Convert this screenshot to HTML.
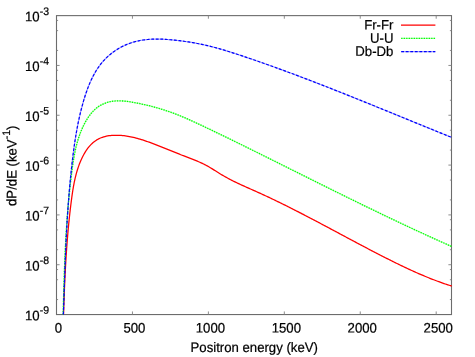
<!DOCTYPE html>
<html><head><meta charset="utf-8"><title>plot</title>
<style>
html,body{margin:0;padding:0;background:#fff;}
svg{display:block;will-change:transform;font-family:"Liberation Sans",sans-serif;font-size:13.7px;fill:#000;}
svg text{stroke:#000;stroke-width:0.22px;text-rendering:geometricPrecision;}
</style></head><body>
<svg width="475" height="357" viewBox="0 0 475 357">
<rect width="475" height="357" fill="#fff"/>
<rect x="56.5" y="15.62" width="395.0" height="298.93" fill="none" stroke="#6c6c6c" stroke-width="1.1"/>
<path d="M56.5,20.45h1.6 M451.5,20.45h-1.6 M56.5,30.62h1.6 M451.5,30.62h-1.6 M56.5,50.44h1.6 M451.5,50.44h-1.6 M56.5,65.44h3.1 M451.5,65.44h-3.1 M56.5,70.27h1.6 M451.5,70.27h-1.6 M56.5,80.44h1.6 M451.5,80.44h-1.6 M56.5,100.27h1.6 M451.5,100.27h-1.6 M56.5,115.26h3.1 M451.5,115.26h-3.1 M56.5,120.09h1.6 M451.5,120.09h-1.6 M56.5,130.26h1.6 M451.5,130.26h-1.6 M56.5,150.09h1.6 M451.5,150.09h-1.6 M56.5,165.09h3.1 M451.5,165.09h-3.1 M56.5,169.91h1.6 M451.5,169.91h-1.6 M56.5,180.08h1.6 M451.5,180.08h-1.6 M56.5,199.91h1.6 M451.5,199.91h-1.6 M56.5,214.91h3.1 M451.5,214.91h-3.1 M56.5,219.73h1.6 M451.5,219.73h-1.6 M56.5,229.90h1.6 M451.5,229.90h-1.6 M56.5,249.73h1.6 M451.5,249.73h-1.6 M56.5,264.73h3.1 M451.5,264.73h-3.1 M56.5,269.56h1.6 M451.5,269.56h-1.6 M56.5,279.73h1.6 M451.5,279.73h-1.6 M56.5,299.55h1.6 M451.5,299.55h-1.6 M132.44,314.55v-3.1 M132.44,15.62v3.1 M208.38,314.55v-3.1 M208.38,15.62v3.1 M284.32,314.55v-3.1 M284.32,15.62v3.1 M360.26,314.55v-3.1 M360.26,15.62v3.1 M436.20,314.55v-3.1 M436.20,15.62v3.1" stroke="#808080" stroke-width="0.9" fill="none"/>
<path d="M63.55,314.51 L63.59,313.14 L63.64,311.78 L63.68,310.41 L63.72,309.05 L63.77,307.68 L63.81,306.32 L63.86,304.95 L63.90,303.59 L63.95,302.22 L64.00,300.86 L64.05,299.49 L64.10,298.13 L64.15,296.76 L64.20,295.40 L64.25,294.03 L64.30,292.67 L64.35,291.31 L64.41,289.94 L64.46,288.58 L64.52,287.22 L64.58,285.85 L64.64,284.49 L64.70,283.13 L64.76,281.76 L64.82,280.40 L64.88,279.04 L64.94,277.67 L65.01,276.31 L65.08,274.95 L65.14,273.59 L65.21,272.22 L65.28,270.86 L65.36,269.50 L65.43,268.14 L65.50,266.78 L65.58,265.41 L65.66,264.05 L65.74,262.69 L65.82,261.33 L65.90,259.97 L65.98,258.61 L66.07,257.25 L66.15,255.89 L66.24,254.53 L66.33,253.16 L66.42,251.80 L66.52,250.44 L66.61,249.08 L66.71,247.72 L66.81,246.36 L66.91,245.00 L67.01,243.65 L67.11,242.29 L67.22,240.93 L67.33,239.57 L67.44,238.21 L67.55,236.85 L67.66,235.49 L67.78,234.13 L67.90,232.77 L68.02,231.42 L68.14,230.06 L68.26,228.70 L68.39,227.34 L68.52,225.98 L68.65,224.63 L68.78,223.27 L68.92,221.91 L69.06,220.56 L69.20,219.20 L69.34,217.84 L69.48,216.49 L69.63,215.13 L69.78,213.77 L69.93,212.42 L70.09,211.06 L70.24,209.70 L70.40,208.35 L70.57,206.99 L70.73,205.64 L70.90,204.28 L71.07,202.93 L71.24,201.57 L71.42,200.22 L71.60,198.86 L71.78,197.51 L71.96,196.16 L72.15,194.80 L72.35,193.45 L72.55,192.10 L72.76,190.75 L72.97,189.40 L73.20,188.05 L73.43,186.71 L73.67,185.37 L73.92,184.03 L74.18,182.69 L74.45,181.35 L74.74,180.02 L75.04,178.69 L75.35,177.37 L75.67,176.04 L76.01,174.72 L76.36,173.41 L76.73,172.10 L77.12,170.79 L77.52,169.49 L77.94,168.19 L78.38,166.90 L78.84,165.61 L79.31,164.33 L79.81,163.05 L80.33,161.78 L80.87,160.51 L81.44,159.25 L82.02,158.00 L82.63,156.75 L83.27,155.51 L83.93,154.29 L84.61,153.09 L85.33,151.90 L86.07,150.73 L86.84,149.59 L87.64,148.48 L88.48,147.40 L89.34,146.35 L90.24,145.34 L91.17,144.36 L92.14,143.43 L93.14,142.54 L94.18,141.70 L95.25,140.91 L96.36,140.17 L97.51,139.49 L98.69,138.86 L99.91,138.28 L101.15,137.76 L102.41,137.29 L103.70,136.88 L105.01,136.52 L106.33,136.21 L107.67,135.96 L109.02,135.74 L110.38,135.57 L111.74,135.44 L113.10,135.35 L114.46,135.29 L115.83,135.26 L117.19,135.26 L118.55,135.30 L119.90,135.36 L121.26,135.45 L122.61,135.57 L123.97,135.72 L125.32,135.89 L126.67,136.08 L128.01,136.30 L129.36,136.54 L130.70,136.81 L132.04,137.09 L133.38,137.39 L134.71,137.72 L136.04,138.05 L137.37,138.41 L138.70,138.78 L140.02,139.17 L141.34,139.57 L142.65,139.98 L143.96,140.40 L145.27,140.84 L146.57,141.28 L147.87,141.73 L149.17,142.20 L150.46,142.66 L151.75,143.14 L153.03,143.61 L154.31,144.10 L155.58,144.58 L156.86,145.07 L158.12,145.57 L159.39,146.07 L160.65,146.57 L161.91,147.07 L163.17,147.58 L164.43,148.09 L165.69,148.60 L166.94,149.11 L168.20,149.62 L169.45,150.13 L170.71,150.64 L171.96,151.16 L173.21,151.67 L174.47,152.18 L175.73,152.69 L176.98,153.20 L178.24,153.71 L179.50,154.21 L180.77,154.72 L182.03,155.22 L183.30,155.71 L184.58,156.21 L185.85,156.70 L187.13,157.19 L188.41,157.68 L189.69,158.16 L190.97,158.66 L192.25,159.15 L193.53,159.65 L194.80,160.16 L196.07,160.67 L197.34,161.20 L198.60,161.73 L199.85,162.28 L201.10,162.84 L202.33,163.42 L203.56,164.01 L204.78,164.62 L205.99,165.25 L207.19,165.91 L208.37,166.57 L209.55,167.26 L210.73,167.95 L211.89,168.66 L213.05,169.37 L214.21,170.10 L215.37,170.82 L216.52,171.55 L217.68,172.27 L218.83,173.00 L219.99,173.71 L221.16,174.42 L222.32,175.12 L223.50,175.81 L224.68,176.49 L225.87,177.16 L227.06,177.81 L228.26,178.46 L229.46,179.10 L230.67,179.72 L231.88,180.34 L233.10,180.95 L234.32,181.56 L235.55,182.15 L236.77,182.74 L238.01,183.33 L239.24,183.91 L240.48,184.48 L241.72,185.05 L242.96,185.62 L244.20,186.18 L245.45,186.74 L246.69,187.30 L247.94,187.85 L249.19,188.41 L250.44,188.96 L251.69,189.52 L252.94,190.07 L254.18,190.63 L255.43,191.18 L256.68,191.74 L257.92,192.30 L259.17,192.86 L260.41,193.43 L261.65,194.00 L262.89,194.57 L264.13,195.14 L265.37,195.71 L266.61,196.29 L267.84,196.87 L269.08,197.45 L270.31,198.03 L271.55,198.62 L272.78,199.21 L274.01,199.80 L275.24,200.39 L276.47,200.98 L277.69,201.57 L278.92,202.17 L280.15,202.77 L281.37,203.37 L282.60,203.97 L283.82,204.58 L285.04,205.18 L286.26,205.79 L287.48,206.40 L288.70,207.01 L289.92,207.62 L291.14,208.23 L292.36,208.85 L293.57,209.46 L294.79,210.08 L296.01,210.70 L297.22,211.32 L298.43,211.94 L299.65,212.57 L300.86,213.19 L302.07,213.82 L303.28,214.44 L304.50,215.07 L305.71,215.70 L306.92,216.33 L308.13,216.96 L309.34,217.59 L310.54,218.22 L311.75,218.85 L312.96,219.49 L314.17,220.12 L315.37,220.76 L316.58,221.40 L317.79,222.03 L318.99,222.67 L320.20,223.31 L321.40,223.95 L322.61,224.59 L323.81,225.23 L325.02,225.87 L326.22,226.51 L327.43,227.15 L328.63,227.79 L329.83,228.43 L331.04,229.08 L332.24,229.72 L333.44,230.36 L334.65,231.00 L335.85,231.65 L337.05,232.29 L338.26,232.93 L339.46,233.58 L340.66,234.22 L341.86,234.86 L343.07,235.51 L344.27,236.15 L345.47,236.79 L346.68,237.44 L347.88,238.08 L349.08,238.72 L350.29,239.36 L351.49,240.01 L352.70,240.65 L353.90,241.29 L355.10,241.93 L356.31,242.57 L357.51,243.21 L358.72,243.85 L359.93,244.49 L361.13,245.13 L362.34,245.76 L363.54,246.40 L364.75,247.04 L365.96,247.67 L367.17,248.31 L368.37,248.94 L369.58,249.57 L370.79,250.21 L372.00,250.84 L373.21,251.47 L374.42,252.10 L375.63,252.72 L376.85,253.35 L378.06,253.98 L379.27,254.60 L380.49,255.23 L381.70,255.85 L382.91,256.47 L384.13,257.09 L385.35,257.71 L386.56,258.33 L387.78,258.94 L389.00,259.55 L390.22,260.17 L391.44,260.78 L392.66,261.39 L393.88,261.99 L395.11,262.60 L396.33,263.20 L397.56,263.80 L398.78,264.40 L400.01,264.99 L401.24,265.58 L402.47,266.17 L403.70,266.76 L404.93,267.35 L406.17,267.93 L407.40,268.50 L408.64,269.08 L409.88,269.65 L411.12,270.22 L412.36,270.79 L413.60,271.35 L414.84,271.91 L416.09,272.46 L417.34,273.01 L418.59,273.56 L419.84,274.10 L421.09,274.64 L422.35,275.17 L423.60,275.70 L424.86,276.23 L426.12,276.75 L427.38,277.27 L428.65,277.78 L429.91,278.29 L431.18,278.79 L432.45,279.29 L433.72,279.78 L435.00,280.27 L436.28,280.75 L437.56,281.23 L438.84,281.70 L440.12,282.17 L441.41,282.63 L442.70,283.08 L443.99,283.53 L445.28,283.98 L446.58,284.42 L447.88,284.85 L449.18,285.27 L450.48,285.69 L451.79,286.11" stroke="#ff0000" stroke-width="1.27" fill="none" stroke-linejoin="round"/>
<path d="M63.15,314.54 L63.19,313.10 L63.22,311.65 L63.26,310.21 L63.30,308.77 L63.33,307.32 L63.37,305.88 L63.41,304.44 L63.44,303.00 L63.48,301.56 L63.52,300.12 L63.56,298.68 L63.60,297.24 L63.64,295.80 L63.68,294.36 L63.72,292.92 L63.76,291.48 L63.80,290.04 L63.84,288.60 L63.88,287.16 L63.92,285.73 L63.97,284.29 L64.01,282.85 L64.06,281.42 L64.10,279.98 L64.15,278.54 L64.20,277.11 L64.24,275.67 L64.29,274.24 L64.34,272.80 L64.39,271.37 L64.44,269.94 L64.50,268.50 L64.55,267.07 L64.60,265.63 L64.66,264.20 L64.72,262.77 L64.77,261.33 L64.83,259.90 L64.89,258.47 L64.95,257.04 L65.01,255.61 L65.08,254.17 L65.14,252.74 L65.21,251.31 L65.28,249.88 L65.34,248.45 L65.41,247.02 L65.49,245.59 L65.56,244.16 L65.63,242.73 L65.71,241.30 L65.79,239.87 L65.87,238.44 L65.95,237.01 L66.03,235.58 L66.11,234.15 L66.20,232.72 L66.29,231.29 L66.37,229.86 L66.47,228.43 L66.56,227.00 L66.65,225.57 L66.75,224.14 L66.85,222.71 L66.95,221.28 L67.05,219.85 L67.15,218.42 L67.26,216.99 L67.37,215.57 L67.48,214.14 L67.59,212.71 L67.70,211.28 L67.82,209.85 L67.94,208.42 L68.06,206.99 L68.18,205.56 L68.31,204.13 L68.43,202.70 L68.56,201.28 L68.69,199.85 L68.83,198.42 L68.97,196.99 L69.11,195.56 L69.25,194.13 L69.39,192.70 L69.54,191.27 L69.69,189.84 L69.84,188.41 L69.99,186.98 L70.15,185.55 L70.31,184.12 L70.47,182.69 L70.64,181.26 L70.81,179.83 L70.98,178.40 L71.15,176.97 L71.33,175.54 L71.50,174.11 L71.69,172.68 L71.87,171.24 L72.06,169.81 L72.25,168.38 L72.45,166.95 L72.65,165.52 L72.86,164.09 L73.07,162.66 L73.29,161.24 L73.52,159.81 L73.76,158.39 L74.00,156.97 L74.26,155.55 L74.53,154.14 L74.80,152.73 L75.09,151.32 L75.39,149.91 L75.70,148.51 L76.03,147.11 L76.37,145.72 L76.72,144.33 L77.09,142.95 L77.48,141.57 L77.88,140.20 L78.30,138.83 L78.74,137.47 L79.19,136.11 L79.67,134.76 L80.16,133.42 L80.67,132.08 L81.21,130.75 L81.77,129.43 L82.34,128.12 L82.95,126.81 L83.57,125.51 L84.22,124.22 L84.89,122.94 L85.59,121.67 L86.32,120.41 L87.07,119.17 L87.85,117.94 L88.66,116.74 L89.50,115.56 L90.37,114.40 L91.27,113.28 L92.20,112.20 L93.17,111.15 L94.18,110.14 L95.21,109.17 L96.29,108.25 L97.40,107.38 L98.55,106.57 L99.74,105.80 L100.96,105.09 L102.21,104.44 L103.49,103.84 L104.79,103.30 L106.11,102.81 L107.46,102.37 L108.82,101.99 L110.19,101.67 L111.58,101.41 L112.98,101.20 L114.38,101.04 L115.80,100.93 L117.22,100.86 L118.65,100.84 L120.08,100.85 L121.52,100.91 L122.97,100.99 L124.42,101.11 L125.87,101.26 L127.32,101.43 L128.77,101.63 L130.22,101.85 L131.67,102.08 L133.11,102.33 L134.56,102.59 L135.99,102.86 L137.43,103.14 L138.86,103.43 L140.28,103.72 L141.70,104.02 L143.11,104.33 L144.52,104.65 L145.93,104.97 L147.33,105.30 L148.73,105.64 L150.12,105.99 L151.51,106.35 L152.90,106.71 L154.28,107.08 L155.66,107.46 L157.03,107.85 L158.40,108.24 L159.77,108.65 L161.13,109.06 L162.49,109.48 L163.85,109.91 L165.20,110.35 L166.56,110.80 L167.90,111.25 L169.25,111.71 L170.59,112.19 L171.93,112.67 L173.27,113.16 L174.61,113.66 L175.94,114.16 L177.27,114.68 L178.60,115.21 L179.93,115.74 L181.26,116.29 L182.58,116.84 L183.90,117.40 L185.22,117.96 L186.54,118.54 L187.86,119.12 L189.17,119.70 L190.49,120.29 L191.80,120.89 L193.11,121.49 L194.42,122.09 L195.73,122.69 L197.04,123.30 L198.35,123.91 L199.65,124.53 L200.96,125.14 L202.26,125.75 L203.56,126.37 L204.87,126.98 L206.17,127.60 L207.47,128.22 L208.77,128.84 L210.07,129.46 L211.37,130.08 L212.66,130.70 L213.96,131.32 L215.26,131.94 L216.55,132.56 L217.85,133.19 L219.14,133.81 L220.44,134.44 L221.73,135.06 L223.02,135.69 L224.31,136.32 L225.61,136.95 L226.90,137.57 L228.19,138.20 L229.48,138.83 L230.77,139.46 L232.06,140.09 L233.34,140.73 L234.63,141.36 L235.92,141.99 L237.21,142.62 L238.50,143.26 L239.78,143.89 L241.07,144.52 L242.36,145.16 L243.64,145.79 L244.93,146.43 L246.22,147.07 L247.50,147.70 L248.79,148.34 L250.07,148.97 L251.36,149.61 L252.65,150.25 L253.93,150.89 L255.22,151.52 L256.50,152.16 L257.79,152.80 L259.07,153.44 L260.36,154.08 L261.64,154.72 L262.93,155.36 L264.21,156.00 L265.50,156.64 L266.78,157.28 L268.07,157.92 L269.35,158.56 L270.64,159.20 L271.92,159.84 L273.21,160.48 L274.49,161.12 L275.77,161.76 L277.06,162.40 L278.34,163.04 L279.63,163.68 L280.91,164.32 L282.20,164.96 L283.48,165.61 L284.77,166.25 L286.05,166.89 L287.34,167.53 L288.62,168.17 L289.90,168.81 L291.19,169.46 L292.47,170.10 L293.76,170.74 L295.04,171.38 L296.33,172.02 L297.61,172.67 L298.90,173.31 L300.18,173.95 L301.47,174.59 L302.75,175.23 L304.04,175.87 L305.32,176.52 L306.61,177.16 L307.89,177.80 L309.18,178.44 L310.46,179.08 L311.75,179.72 L313.03,180.36 L314.32,181.00 L315.60,181.65 L316.89,182.29 L318.18,182.93 L319.46,183.57 L320.75,184.21 L322.03,184.85 L323.32,185.49 L324.61,186.13 L325.89,186.77 L327.18,187.40 L328.47,188.04 L329.75,188.68 L331.04,189.32 L332.33,189.96 L333.61,190.60 L334.90,191.23 L336.19,191.87 L337.48,192.51 L338.76,193.15 L340.05,193.78 L341.34,194.42 L342.63,195.06 L343.92,195.69 L345.20,196.33 L346.49,196.96 L347.78,197.60 L349.07,198.23 L350.36,198.86 L351.65,199.50 L352.94,200.13 L354.23,200.76 L355.52,201.40 L356.81,202.03 L358.10,202.66 L359.39,203.29 L360.68,203.92 L361.97,204.55 L363.26,205.18 L364.55,205.81 L365.84,206.44 L367.14,207.07 L368.43,207.70 L369.72,208.32 L371.01,208.95 L372.31,209.58 L373.60,210.20 L374.89,210.83 L376.19,211.45 L377.48,212.08 L378.77,212.70 L380.07,213.33 L381.36,213.95 L382.66,214.57 L383.95,215.19 L385.25,215.81 L386.54,216.43 L387.84,217.05 L389.13,217.67 L390.43,218.29 L391.73,218.91 L393.02,219.53 L394.32,220.14 L395.62,220.76 L396.92,221.37 L398.21,221.99 L399.51,222.60 L400.81,223.22 L402.11,223.83 L403.41,224.44 L404.71,225.05 L406.01,225.66 L407.31,226.27 L408.61,226.88 L409.91,227.49 L411.21,228.09 L412.51,228.70 L413.82,229.31 L415.12,229.91 L416.42,230.52 L417.72,231.12 L419.03,231.72 L420.33,232.32 L421.64,232.93 L422.94,233.53 L424.25,234.12 L425.55,234.72 L426.86,235.32 L428.16,235.92 L429.47,236.51 L430.78,237.11 L432.08,237.70 L433.39,238.30 L434.70,238.89 L436.01,239.48 L437.32,240.07 L438.63,240.66 L439.94,241.25 L441.25,241.83 L442.56,242.42 L443.87,243.01 L445.18,243.59 L446.49,244.17 L447.80,244.76 L449.11,245.34 L450.43,245.92 L451.74,246.50" stroke="#00ff00" stroke-opacity="0.3" stroke-width="1.3" fill="none"/>
<path d="M63.15,314.54 L63.19,313.10 L63.22,311.65 L63.26,310.21 L63.30,308.77 L63.33,307.32 L63.37,305.88 L63.41,304.44 L63.44,303.00 L63.48,301.56 L63.52,300.12 L63.56,298.68 L63.60,297.24 L63.64,295.80 L63.68,294.36 L63.72,292.92 L63.76,291.48 L63.80,290.04 L63.84,288.60 L63.88,287.16 L63.92,285.73 L63.97,284.29 L64.01,282.85 L64.06,281.42 L64.10,279.98 L64.15,278.54 L64.20,277.11 L64.24,275.67 L64.29,274.24 L64.34,272.80 L64.39,271.37 L64.44,269.94 L64.50,268.50 L64.55,267.07 L64.60,265.63 L64.66,264.20 L64.72,262.77 L64.77,261.33 L64.83,259.90 L64.89,258.47 L64.95,257.04 L65.01,255.61 L65.08,254.17 L65.14,252.74 L65.21,251.31 L65.28,249.88 L65.34,248.45 L65.41,247.02 L65.49,245.59 L65.56,244.16 L65.63,242.73 L65.71,241.30 L65.79,239.87 L65.87,238.44 L65.95,237.01 L66.03,235.58 L66.11,234.15 L66.20,232.72 L66.29,231.29 L66.37,229.86 L66.47,228.43 L66.56,227.00 L66.65,225.57 L66.75,224.14 L66.85,222.71 L66.95,221.28 L67.05,219.85 L67.15,218.42 L67.26,216.99 L67.37,215.57 L67.48,214.14 L67.59,212.71 L67.70,211.28 L67.82,209.85 L67.94,208.42 L68.06,206.99 L68.18,205.56 L68.31,204.13 L68.43,202.70 L68.56,201.28 L68.69,199.85 L68.83,198.42 L68.97,196.99 L69.11,195.56 L69.25,194.13 L69.39,192.70 L69.54,191.27 L69.69,189.84 L69.84,188.41 L69.99,186.98 L70.15,185.55 L70.31,184.12 L70.47,182.69 L70.64,181.26 L70.81,179.83 L70.98,178.40 L71.15,176.97 L71.33,175.54 L71.50,174.11 L71.69,172.68 L71.87,171.24 L72.06,169.81 L72.25,168.38 L72.45,166.95 L72.65,165.52 L72.86,164.09 L73.07,162.66 L73.29,161.24 L73.52,159.81 L73.76,158.39 L74.00,156.97 L74.26,155.55 L74.53,154.14 L74.80,152.73 L75.09,151.32 L75.39,149.91 L75.70,148.51 L76.03,147.11 L76.37,145.72 L76.72,144.33 L77.09,142.95 L77.48,141.57 L77.88,140.20 L78.30,138.83 L78.74,137.47 L79.19,136.11 L79.67,134.76 L80.16,133.42 L80.67,132.08 L81.21,130.75 L81.77,129.43 L82.34,128.12 L82.95,126.81 L83.57,125.51 L84.22,124.22 L84.89,122.94 L85.59,121.67 L86.32,120.41 L87.07,119.17 L87.85,117.94 L88.66,116.74 L89.50,115.56 L90.37,114.40 L91.27,113.28 L92.20,112.20 L93.17,111.15 L94.18,110.14 L95.21,109.17 L96.29,108.25 L97.40,107.38 L98.55,106.57 L99.74,105.80 L100.96,105.09 L102.21,104.44 L103.49,103.84 L104.79,103.30 L106.11,102.81 L107.46,102.37 L108.82,101.99 L110.19,101.67 L111.58,101.41 L112.98,101.20 L114.38,101.04 L115.80,100.93 L117.22,100.86 L118.65,100.84 L120.08,100.85 L121.52,100.91 L122.97,100.99 L124.42,101.11 L125.87,101.26 L127.32,101.43 L128.77,101.63 L130.22,101.85 L131.67,102.08 L133.11,102.33 L134.56,102.59 L135.99,102.86 L137.43,103.14 L138.86,103.43 L140.28,103.72 L141.70,104.02 L143.11,104.33 L144.52,104.65 L145.93,104.97 L147.33,105.30 L148.73,105.64 L150.12,105.99 L151.51,106.35 L152.90,106.71 L154.28,107.08 L155.66,107.46 L157.03,107.85 L158.40,108.24 L159.77,108.65 L161.13,109.06 L162.49,109.48 L163.85,109.91 L165.20,110.35 L166.56,110.80 L167.90,111.25 L169.25,111.71 L170.59,112.19 L171.93,112.67 L173.27,113.16 L174.61,113.66 L175.94,114.16 L177.27,114.68 L178.60,115.21 L179.93,115.74 L181.26,116.29 L182.58,116.84 L183.90,117.40 L185.22,117.96 L186.54,118.54 L187.86,119.12 L189.17,119.70 L190.49,120.29 L191.80,120.89 L193.11,121.49 L194.42,122.09 L195.73,122.69 L197.04,123.30 L198.35,123.91 L199.65,124.53 L200.96,125.14 L202.26,125.75 L203.56,126.37 L204.87,126.98 L206.17,127.60 L207.47,128.22 L208.77,128.84 L210.07,129.46 L211.37,130.08 L212.66,130.70 L213.96,131.32 L215.26,131.94 L216.55,132.56 L217.85,133.19 L219.14,133.81 L220.44,134.44 L221.73,135.06 L223.02,135.69 L224.31,136.32 L225.61,136.95 L226.90,137.57 L228.19,138.20 L229.48,138.83 L230.77,139.46 L232.06,140.09 L233.34,140.73 L234.63,141.36 L235.92,141.99 L237.21,142.62 L238.50,143.26 L239.78,143.89 L241.07,144.52 L242.36,145.16 L243.64,145.79 L244.93,146.43 L246.22,147.07 L247.50,147.70 L248.79,148.34 L250.07,148.97 L251.36,149.61 L252.65,150.25 L253.93,150.89 L255.22,151.52 L256.50,152.16 L257.79,152.80 L259.07,153.44 L260.36,154.08 L261.64,154.72 L262.93,155.36 L264.21,156.00 L265.50,156.64 L266.78,157.28 L268.07,157.92 L269.35,158.56 L270.64,159.20 L271.92,159.84 L273.21,160.48 L274.49,161.12 L275.77,161.76 L277.06,162.40 L278.34,163.04 L279.63,163.68 L280.91,164.32 L282.20,164.96 L283.48,165.61 L284.77,166.25 L286.05,166.89 L287.34,167.53 L288.62,168.17 L289.90,168.81 L291.19,169.46 L292.47,170.10 L293.76,170.74 L295.04,171.38 L296.33,172.02 L297.61,172.67 L298.90,173.31 L300.18,173.95 L301.47,174.59 L302.75,175.23 L304.04,175.87 L305.32,176.52 L306.61,177.16 L307.89,177.80 L309.18,178.44 L310.46,179.08 L311.75,179.72 L313.03,180.36 L314.32,181.00 L315.60,181.65 L316.89,182.29 L318.18,182.93 L319.46,183.57 L320.75,184.21 L322.03,184.85 L323.32,185.49 L324.61,186.13 L325.89,186.77 L327.18,187.40 L328.47,188.04 L329.75,188.68 L331.04,189.32 L332.33,189.96 L333.61,190.60 L334.90,191.23 L336.19,191.87 L337.48,192.51 L338.76,193.15 L340.05,193.78 L341.34,194.42 L342.63,195.06 L343.92,195.69 L345.20,196.33 L346.49,196.96 L347.78,197.60 L349.07,198.23 L350.36,198.86 L351.65,199.50 L352.94,200.13 L354.23,200.76 L355.52,201.40 L356.81,202.03 L358.10,202.66 L359.39,203.29 L360.68,203.92 L361.97,204.55 L363.26,205.18 L364.55,205.81 L365.84,206.44 L367.14,207.07 L368.43,207.70 L369.72,208.32 L371.01,208.95 L372.31,209.58 L373.60,210.20 L374.89,210.83 L376.19,211.45 L377.48,212.08 L378.77,212.70 L380.07,213.33 L381.36,213.95 L382.66,214.57 L383.95,215.19 L385.25,215.81 L386.54,216.43 L387.84,217.05 L389.13,217.67 L390.43,218.29 L391.73,218.91 L393.02,219.53 L394.32,220.14 L395.62,220.76 L396.92,221.37 L398.21,221.99 L399.51,222.60 L400.81,223.22 L402.11,223.83 L403.41,224.44 L404.71,225.05 L406.01,225.66 L407.31,226.27 L408.61,226.88 L409.91,227.49 L411.21,228.09 L412.51,228.70 L413.82,229.31 L415.12,229.91 L416.42,230.52 L417.72,231.12 L419.03,231.72 L420.33,232.32 L421.64,232.93 L422.94,233.53 L424.25,234.12 L425.55,234.72 L426.86,235.32 L428.16,235.92 L429.47,236.51 L430.78,237.11 L432.08,237.70 L433.39,238.30 L434.70,238.89 L436.01,239.48 L437.32,240.07 L438.63,240.66 L439.94,241.25 L441.25,241.83 L442.56,242.42 L443.87,243.01 L445.18,243.59 L446.49,244.17 L447.80,244.76 L449.11,245.34 L450.43,245.92 L451.74,246.50" stroke="#00ff00" stroke-width="1.3" fill="none" stroke-dasharray="1.25 1.25"/>
<path d="M63.37,314.44 L63.42,312.95 L63.47,311.45 L63.52,309.96 L63.58,308.46 L63.63,306.96 L63.68,305.46 L63.73,303.97 L63.78,302.47 L63.83,300.97 L63.88,299.47 L63.93,297.97 L63.98,296.46 L64.03,294.96 L64.08,293.46 L64.14,291.96 L64.19,290.46 L64.24,288.95 L64.29,287.45 L64.34,285.94 L64.39,284.44 L64.44,282.93 L64.49,281.43 L64.55,279.92 L64.60,278.42 L64.65,276.91 L64.71,275.40 L64.76,273.90 L64.81,272.39 L64.87,270.88 L64.92,269.37 L64.98,267.87 L65.04,266.36 L65.09,264.85 L65.15,263.34 L65.21,261.83 L65.27,260.32 L65.33,258.81 L65.39,257.30 L65.45,255.79 L65.51,254.28 L65.58,252.78 L65.64,251.27 L65.71,249.76 L65.77,248.25 L65.84,246.74 L65.91,245.23 L65.97,243.72 L66.05,242.21 L66.12,240.70 L66.19,239.19 L66.26,237.68 L66.34,236.17 L66.41,234.66 L66.49,233.15 L66.57,231.64 L66.65,230.13 L66.73,228.62 L66.81,227.11 L66.90,225.60 L66.98,224.09 L67.07,222.58 L67.16,221.07 L67.25,219.56 L67.34,218.05 L67.43,216.54 L67.53,215.04 L67.63,213.53 L67.72,212.02 L67.82,210.51 L67.93,209.01 L68.03,207.50 L68.14,205.99 L68.24,204.49 L68.35,202.98 L68.46,201.47 L68.58,199.97 L68.69,198.46 L68.81,196.96 L68.93,195.46 L69.05,193.95 L69.17,192.45 L69.30,190.95 L69.43,189.44 L69.56,187.94 L69.69,186.44 L69.82,184.94 L69.96,183.44 L70.10,181.94 L70.24,180.44 L70.38,178.94 L70.53,177.44 L70.68,175.94 L70.83,174.45 L70.99,172.95 L71.14,171.45 L71.30,169.96 L71.46,168.46 L71.63,166.97 L71.79,165.48 L71.96,163.98 L72.14,162.49 L72.31,161.00 L72.49,159.51 L72.67,158.02 L72.85,156.53 L73.04,155.04 L73.23,153.55 L73.42,152.07 L73.62,150.58 L73.82,149.09 L74.02,147.61 L74.23,146.12 L74.44,144.64 L74.66,143.16 L74.88,141.68 L75.10,140.19 L75.34,138.71 L75.57,137.23 L75.81,135.75 L76.06,134.27 L76.31,132.80 L76.57,131.32 L76.83,129.84 L77.11,128.37 L77.38,126.89 L77.67,125.42 L77.96,123.94 L78.26,122.47 L78.56,120.99 L78.87,119.52 L79.19,118.05 L79.52,116.58 L79.86,115.11 L80.20,113.64 L80.56,112.17 L80.92,110.70 L81.29,109.23 L81.67,107.77 L82.06,106.30 L82.46,104.83 L82.86,103.37 L83.28,101.90 L83.71,100.44 L84.15,98.97 L84.60,97.51 L85.06,96.05 L85.53,94.59 L86.01,93.14 L86.51,91.69 L87.02,90.25 L87.55,88.81 L88.09,87.38 L88.65,85.96 L89.22,84.54 L89.81,83.14 L90.42,81.74 L91.05,80.36 L91.69,78.99 L92.35,77.63 L93.03,76.28 L93.74,74.95 L94.46,73.63 L95.21,72.33 L95.97,71.04 L96.76,69.77 L97.58,68.52 L98.41,67.28 L99.27,66.07 L100.16,64.87 L101.07,63.70 L102.01,62.55 L102.97,61.41 L103.97,60.31 L104.99,59.22 L106.03,58.17 L107.11,57.13 L108.21,56.12 L109.33,55.14 L110.48,54.18 L111.65,53.25 L112.84,52.34 L114.05,51.47 L115.29,50.62 L116.54,49.79 L117.82,49.00 L119.11,48.24 L120.42,47.50 L121.75,46.80 L123.09,46.12 L124.45,45.47 L125.82,44.86 L127.20,44.28 L128.60,43.73 L130.01,43.21 L131.43,42.72 L132.86,42.27 L134.30,41.85 L135.74,41.46 L137.20,41.11 L138.66,40.79 L140.13,40.50 L141.61,40.24 L143.09,40.01 L144.58,39.81 L146.07,39.63 L147.57,39.48 L149.08,39.36 L150.58,39.26 L152.10,39.19 L153.61,39.13 L155.13,39.10 L156.65,39.09 L158.17,39.10 L159.69,39.12 L161.22,39.17 L162.74,39.22 L164.27,39.30 L165.79,39.39 L167.32,39.49 L168.84,39.61 L170.36,39.74 L171.88,39.88 L173.40,40.03 L174.92,40.18 L176.43,40.35 L177.94,40.52 L179.44,40.70 L180.95,40.89 L182.45,41.08 L183.94,41.28 L185.43,41.49 L186.93,41.71 L188.41,41.94 L189.90,42.17 L191.38,42.41 L192.86,42.66 L194.34,42.92 L195.81,43.19 L197.29,43.47 L198.76,43.75 L200.22,44.04 L201.69,44.35 L203.15,44.66 L204.62,44.98 L206.08,45.31 L207.54,45.65 L208.99,46.00 L210.45,46.35 L211.90,46.72 L213.36,47.10 L214.81,47.48 L216.26,47.87 L217.70,48.27 L219.15,48.68 L220.60,49.09 L222.04,49.51 L223.48,49.94 L224.93,50.37 L226.37,50.81 L227.81,51.25 L229.24,51.70 L230.68,52.15 L232.12,52.61 L233.55,53.07 L234.99,53.54 L236.42,54.00 L237.86,54.47 L239.29,54.95 L240.72,55.42 L242.15,55.90 L243.58,56.38 L245.01,56.86 L246.44,57.34 L247.87,57.83 L249.30,58.31 L250.73,58.80 L252.15,59.29 L253.58,59.78 L255.01,60.27 L256.43,60.77 L257.86,61.26 L259.28,61.76 L260.70,62.25 L262.13,62.75 L263.55,63.25 L264.97,63.76 L266.39,64.26 L267.82,64.76 L269.24,65.27 L270.66,65.78 L272.08,66.29 L273.49,66.80 L274.91,67.31 L276.33,67.82 L277.75,68.33 L279.17,68.85 L280.58,69.36 L282.00,69.88 L283.41,70.40 L284.83,70.92 L286.24,71.44 L287.66,71.96 L289.07,72.49 L290.49,73.01 L291.90,73.54 L293.31,74.06 L294.72,74.59 L296.14,75.12 L297.55,75.65 L298.96,76.18 L300.37,76.71 L301.78,77.25 L303.19,77.78 L304.60,78.32 L306.01,78.85 L307.42,79.39 L308.82,79.93 L310.23,80.47 L311.64,81.01 L313.05,81.55 L314.45,82.09 L315.86,82.63 L317.27,83.18 L318.67,83.72 L320.08,84.27 L321.48,84.81 L322.89,85.36 L324.29,85.91 L325.70,86.46 L327.10,87.00 L328.51,87.56 L329.91,88.11 L331.31,88.66 L332.71,89.21 L334.12,89.76 L335.52,90.32 L336.92,90.87 L338.32,91.43 L339.73,91.98 L341.13,92.54 L342.53,93.10 L343.93,93.65 L345.33,94.21 L346.73,94.77 L348.13,95.33 L349.53,95.89 L350.93,96.45 L352.33,97.01 L353.73,97.57 L355.13,98.14 L356.53,98.70 L357.92,99.26 L359.32,99.82 L360.72,100.39 L362.12,100.95 L363.52,101.52 L364.92,102.08 L366.31,102.65 L367.71,103.21 L369.11,103.78 L370.50,104.35 L371.90,104.91 L373.30,105.48 L374.70,106.05 L376.09,106.62 L377.49,107.19 L378.89,107.75 L380.28,108.32 L381.68,108.89 L383.07,109.46 L384.47,110.03 L385.87,110.60 L387.26,111.17 L388.66,111.74 L390.05,112.31 L391.45,112.88 L392.85,113.45 L394.24,114.02 L395.64,114.59 L397.03,115.16 L398.43,115.73 L399.82,116.30 L401.22,116.87 L402.61,117.45 L404.01,118.02 L405.41,118.59 L406.80,119.16 L408.20,119.73 L409.59,120.30 L410.99,120.87 L412.38,121.44 L413.78,122.01 L415.17,122.58 L416.57,123.15 L417.96,123.72 L419.36,124.29 L420.76,124.86 L422.15,125.43 L423.55,126.00 L424.94,126.57 L426.34,127.14 L427.73,127.71 L429.13,128.28 L430.53,128.85 L431.92,129.42 L433.32,129.98 L434.72,130.55 L436.11,131.12 L437.51,131.69 L438.90,132.25 L440.30,132.82 L441.70,133.38 L443.10,133.95 L444.49,134.52 L445.89,135.08 L447.29,135.64 L448.69,136.21 L450.08,136.77 L451.48,137.34" stroke="#0000ff" stroke-opacity="0.38" stroke-width="1.2" fill="none"/>
<path d="M63.37,314.44 L63.42,312.95 L63.47,311.45 L63.52,309.96 L63.58,308.46 L63.63,306.96 L63.68,305.46 L63.73,303.97 L63.78,302.47 L63.83,300.97 L63.88,299.47 L63.93,297.97 L63.98,296.46 L64.03,294.96 L64.08,293.46 L64.14,291.96 L64.19,290.46 L64.24,288.95 L64.29,287.45 L64.34,285.94 L64.39,284.44 L64.44,282.93 L64.49,281.43 L64.55,279.92 L64.60,278.42 L64.65,276.91 L64.71,275.40 L64.76,273.90 L64.81,272.39 L64.87,270.88 L64.92,269.37 L64.98,267.87 L65.04,266.36 L65.09,264.85 L65.15,263.34 L65.21,261.83 L65.27,260.32 L65.33,258.81 L65.39,257.30 L65.45,255.79 L65.51,254.28 L65.58,252.78 L65.64,251.27 L65.71,249.76 L65.77,248.25 L65.84,246.74 L65.91,245.23 L65.97,243.72 L66.05,242.21 L66.12,240.70 L66.19,239.19 L66.26,237.68 L66.34,236.17 L66.41,234.66 L66.49,233.15 L66.57,231.64 L66.65,230.13 L66.73,228.62 L66.81,227.11 L66.90,225.60 L66.98,224.09 L67.07,222.58 L67.16,221.07 L67.25,219.56 L67.34,218.05 L67.43,216.54 L67.53,215.04 L67.63,213.53 L67.72,212.02 L67.82,210.51 L67.93,209.01 L68.03,207.50 L68.14,205.99 L68.24,204.49 L68.35,202.98 L68.46,201.47 L68.58,199.97 L68.69,198.46 L68.81,196.96 L68.93,195.46 L69.05,193.95 L69.17,192.45 L69.30,190.95 L69.43,189.44 L69.56,187.94 L69.69,186.44 L69.82,184.94 L69.96,183.44 L70.10,181.94 L70.24,180.44 L70.38,178.94 L70.53,177.44 L70.68,175.94 L70.83,174.45 L70.99,172.95 L71.14,171.45 L71.30,169.96 L71.46,168.46 L71.63,166.97 L71.79,165.48 L71.96,163.98 L72.14,162.49 L72.31,161.00 L72.49,159.51 L72.67,158.02 L72.85,156.53 L73.04,155.04 L73.23,153.55 L73.42,152.07 L73.62,150.58 L73.82,149.09 L74.02,147.61 L74.23,146.12 L74.44,144.64 L74.66,143.16 L74.88,141.68 L75.10,140.19 L75.34,138.71 L75.57,137.23 L75.81,135.75 L76.06,134.27 L76.31,132.80 L76.57,131.32 L76.83,129.84 L77.11,128.37 L77.38,126.89 L77.67,125.42 L77.96,123.94 L78.26,122.47 L78.56,120.99 L78.87,119.52 L79.19,118.05 L79.52,116.58 L79.86,115.11 L80.20,113.64 L80.56,112.17 L80.92,110.70 L81.29,109.23 L81.67,107.77 L82.06,106.30 L82.46,104.83 L82.86,103.37 L83.28,101.90 L83.71,100.44 L84.15,98.97 L84.60,97.51 L85.06,96.05 L85.53,94.59 L86.01,93.14 L86.51,91.69 L87.02,90.25 L87.55,88.81 L88.09,87.38 L88.65,85.96 L89.22,84.54 L89.81,83.14 L90.42,81.74 L91.05,80.36 L91.69,78.99 L92.35,77.63 L93.03,76.28 L93.74,74.95 L94.46,73.63 L95.21,72.33 L95.97,71.04 L96.76,69.77 L97.58,68.52 L98.41,67.28 L99.27,66.07 L100.16,64.87 L101.07,63.70 L102.01,62.55 L102.97,61.41 L103.97,60.31 L104.99,59.22 L106.03,58.17 L107.11,57.13 L108.21,56.12 L109.33,55.14 L110.48,54.18 L111.65,53.25 L112.84,52.34 L114.05,51.47 L115.29,50.62 L116.54,49.79 L117.82,49.00 L119.11,48.24 L120.42,47.50 L121.75,46.80 L123.09,46.12 L124.45,45.47 L125.82,44.86 L127.20,44.28 L128.60,43.73 L130.01,43.21 L131.43,42.72 L132.86,42.27 L134.30,41.85 L135.74,41.46 L137.20,41.11 L138.66,40.79 L140.13,40.50 L141.61,40.24 L143.09,40.01 L144.58,39.81 L146.07,39.63 L147.57,39.48 L149.08,39.36 L150.58,39.26 L152.10,39.19 L153.61,39.13 L155.13,39.10 L156.65,39.09 L158.17,39.10 L159.69,39.12 L161.22,39.17 L162.74,39.22 L164.27,39.30 L165.79,39.39 L167.32,39.49 L168.84,39.61 L170.36,39.74 L171.88,39.88 L173.40,40.03 L174.92,40.18 L176.43,40.35 L177.94,40.52 L179.44,40.70 L180.95,40.89 L182.45,41.08 L183.94,41.28 L185.43,41.49 L186.93,41.71 L188.41,41.94 L189.90,42.17 L191.38,42.41 L192.86,42.66 L194.34,42.92 L195.81,43.19 L197.29,43.47 L198.76,43.75 L200.22,44.04 L201.69,44.35 L203.15,44.66 L204.62,44.98 L206.08,45.31 L207.54,45.65 L208.99,46.00 L210.45,46.35 L211.90,46.72 L213.36,47.10 L214.81,47.48 L216.26,47.87 L217.70,48.27 L219.15,48.68 L220.60,49.09 L222.04,49.51 L223.48,49.94 L224.93,50.37 L226.37,50.81 L227.81,51.25 L229.24,51.70 L230.68,52.15 L232.12,52.61 L233.55,53.07 L234.99,53.54 L236.42,54.00 L237.86,54.47 L239.29,54.95 L240.72,55.42 L242.15,55.90 L243.58,56.38 L245.01,56.86 L246.44,57.34 L247.87,57.83 L249.30,58.31 L250.73,58.80 L252.15,59.29 L253.58,59.78 L255.01,60.27 L256.43,60.77 L257.86,61.26 L259.28,61.76 L260.70,62.25 L262.13,62.75 L263.55,63.25 L264.97,63.76 L266.39,64.26 L267.82,64.76 L269.24,65.27 L270.66,65.78 L272.08,66.29 L273.49,66.80 L274.91,67.31 L276.33,67.82 L277.75,68.33 L279.17,68.85 L280.58,69.36 L282.00,69.88 L283.41,70.40 L284.83,70.92 L286.24,71.44 L287.66,71.96 L289.07,72.49 L290.49,73.01 L291.90,73.54 L293.31,74.06 L294.72,74.59 L296.14,75.12 L297.55,75.65 L298.96,76.18 L300.37,76.71 L301.78,77.25 L303.19,77.78 L304.60,78.32 L306.01,78.85 L307.42,79.39 L308.82,79.93 L310.23,80.47 L311.64,81.01 L313.05,81.55 L314.45,82.09 L315.86,82.63 L317.27,83.18 L318.67,83.72 L320.08,84.27 L321.48,84.81 L322.89,85.36 L324.29,85.91 L325.70,86.46 L327.10,87.00 L328.51,87.56 L329.91,88.11 L331.31,88.66 L332.71,89.21 L334.12,89.76 L335.52,90.32 L336.92,90.87 L338.32,91.43 L339.73,91.98 L341.13,92.54 L342.53,93.10 L343.93,93.65 L345.33,94.21 L346.73,94.77 L348.13,95.33 L349.53,95.89 L350.93,96.45 L352.33,97.01 L353.73,97.57 L355.13,98.14 L356.53,98.70 L357.92,99.26 L359.32,99.82 L360.72,100.39 L362.12,100.95 L363.52,101.52 L364.92,102.08 L366.31,102.65 L367.71,103.21 L369.11,103.78 L370.50,104.35 L371.90,104.91 L373.30,105.48 L374.70,106.05 L376.09,106.62 L377.49,107.19 L378.89,107.75 L380.28,108.32 L381.68,108.89 L383.07,109.46 L384.47,110.03 L385.87,110.60 L387.26,111.17 L388.66,111.74 L390.05,112.31 L391.45,112.88 L392.85,113.45 L394.24,114.02 L395.64,114.59 L397.03,115.16 L398.43,115.73 L399.82,116.30 L401.22,116.87 L402.61,117.45 L404.01,118.02 L405.41,118.59 L406.80,119.16 L408.20,119.73 L409.59,120.30 L410.99,120.87 L412.38,121.44 L413.78,122.01 L415.17,122.58 L416.57,123.15 L417.96,123.72 L419.36,124.29 L420.76,124.86 L422.15,125.43 L423.55,126.00 L424.94,126.57 L426.34,127.14 L427.73,127.71 L429.13,128.28 L430.53,128.85 L431.92,129.42 L433.32,129.98 L434.72,130.55 L436.11,131.12 L437.51,131.69 L438.90,132.25 L440.30,132.82 L441.70,133.38 L443.10,133.95 L444.49,134.52 L445.89,135.08 L447.29,135.64 L448.69,136.21 L450.08,136.77 L451.48,137.34" stroke="#0000ff" stroke-width="1.2" fill="none" stroke-dasharray="2.8 1.75"/>
<path d="M401.0,25.05H435.4" stroke="#ff0000" stroke-width="1.27" fill="none" stroke-linejoin="round"/>
<path d="M401.2,38.3H435.3" stroke="#00ff00" stroke-opacity="0.3" stroke-width="1.3" fill="none"/>
<path d="M401.2,38.3H435.3" stroke="#00ff00" stroke-width="1.3" fill="none" stroke-dasharray="1.25 1.25"/>
<path d="M401.2,51.55H435.3" stroke="#0000ff" stroke-opacity="0.38" stroke-width="1.2" fill="none"/>
<path d="M401.2,51.55H435.3" stroke="#0000ff" stroke-width="1.2" fill="none" stroke-dasharray="2.8 1.75"/>
<text transform="translate(393.40,29.50) rotate(0.05) scale(0.962,1)" text-anchor="end">Fr-Fr</text>
<text transform="translate(393.40,42.70) rotate(0.05) scale(0.962,1)" text-anchor="end">U-U</text>
<text transform="translate(393.40,55.90) rotate(0.05) scale(0.962,1)" text-anchor="end">Db-Db</text>
<text transform="translate(25.00,21.27) rotate(0.05) scale(0.962,1)" text-anchor="start">10<tspan dy="-6.4" font-size="10.9">-3</tspan></text>
<text transform="translate(25.00,71.09) rotate(0.05) scale(0.962,1)" text-anchor="start">10<tspan dy="-6.4" font-size="10.9">-4</tspan></text>
<text transform="translate(25.00,120.91) rotate(0.05) scale(0.962,1)" text-anchor="start">10<tspan dy="-6.4" font-size="10.9">-5</tspan></text>
<text transform="translate(25.00,170.74) rotate(0.05) scale(0.962,1)" text-anchor="start">10<tspan dy="-6.4" font-size="10.9">-6</tspan></text>
<text transform="translate(25.00,220.56) rotate(0.05) scale(0.962,1)" text-anchor="start">10<tspan dy="-6.4" font-size="10.9">-7</tspan></text>
<text transform="translate(25.00,270.38) rotate(0.05) scale(0.962,1)" text-anchor="start">10<tspan dy="-6.4" font-size="10.9">-8</tspan></text>
<text transform="translate(25.00,320.20) rotate(0.05) scale(0.962,1)" text-anchor="start">10<tspan dy="-6.4" font-size="10.9">-9</tspan></text>
<text transform="translate(58.50,332.40) rotate(0.05) scale(0.962,1)" text-anchor="middle">0</text>
<text transform="translate(134.44,332.40) rotate(0.05) scale(0.962,1)" text-anchor="middle">500</text>
<text transform="translate(210.38,332.40) rotate(0.05) scale(0.962,1)" text-anchor="middle">1000</text>
<text transform="translate(286.32,332.40) rotate(0.05) scale(0.962,1)" text-anchor="middle">1500</text>
<text transform="translate(362.26,332.40) rotate(0.05) scale(0.962,1)" text-anchor="middle">2000</text>
<text transform="translate(438.20,332.40) rotate(0.05) scale(0.962,1)" text-anchor="middle">2500</text>
<text transform="translate(254.20,352.00) rotate(0.05) scale(0.962,1)" text-anchor="middle">Positron energy (keV)</text>
<text transform="translate(16.40,165.80) rotate(-89.95) scale(0.962,1)" text-anchor="middle">dP/dE (keV<tspan dy="-6.4" font-size="10.9">-1</tspan><tspan dy="6.4">)</tspan></text>
</svg>
</body></html>
